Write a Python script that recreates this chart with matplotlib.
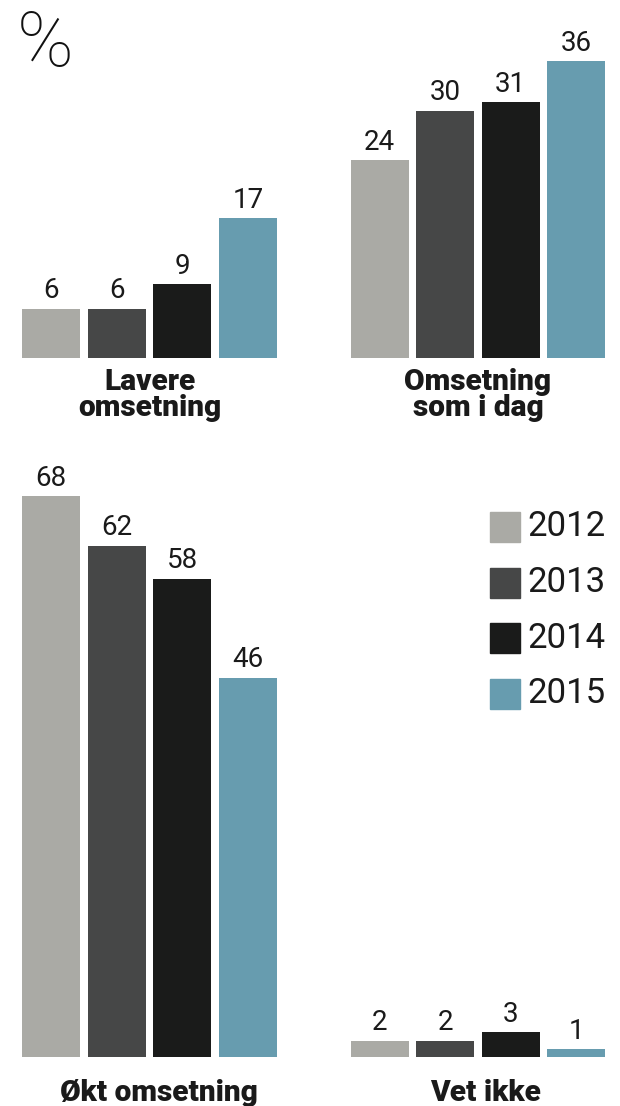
import numpy as np
import matplotlib.pyplot as plt
from matplotlib.patches import Rectangle

# data
years = ['2012', '2013', '2014', '2015']
colors = ['#aaaaa5', '#464747', '#1a1b1a', '#679caf']
lavere = [6, 6, 9, 17]
som_i_dag = [24, 30, 31, 36]
okt = [68, 62, 58, 46]
vet_ikke = [2, 2, 3, 1]

W, H = 620, 1106
fig = plt.figure(figsize=(W / 100, H / 100), dpi=100)
plt.rcParams['font.family'] = ['Roboto', 'DejaVu Sans']

PX = 8.25  # pixels per percent point


def panel(x0, x1, base, ymax, values, lines, label_base, dx=0):
    # axes placed in pixel coords -> figure fraction
    top = base - PX * ymax
    ax = fig.add_axes([x0 / W, 1 - base / H, (x1 - x0) / W, (base - top) / H])
    xs = np.arange(len(values))
    ax.bar(xs, values, width=0.88, color=colors, edgecolor='none')
    for x, v in zip(xs, values):
        ax.annotate(str(v), (x, v), xytext=(0, 3), textcoords='offset points',
                    ha='center', va='bottom', fontsize=20, color='#1a1a1a')
    ax.set_xlim(-0.44, len(values) - 0.56)
    ax.set_ylim(0, ymax)
    ax.axis('off')
    # category label, one text per line
    for i, ln in enumerate(lines):
        fig.text(((x0 + x1) / 2 + dx) / W, 1 - (label_base + i * 25.5) / H, ln,
                 ha='center', va='baseline', fontsize=21.5, fontweight='heavy',
                 color='#1a1a1a')
    return ax


panel(22, 277, 358, 40, lavere, ['Lavere', 'omsetning'], 390)
panel(351, 605, 358, 40, som_i_dag, ['Omsetning', 'som i dag'], 390)
panel(22, 277, 1057, 70, okt, ['Økt omsetning'], 1101, dx=9)
panel(351, 605, 1057, 70, vet_ikke, ['Vet ikke'], 1101, dx=7)

# percent sign
fig.text(17 / W, 1 - 9 / H, '%', ha='left', va='top', fontsize=55,
         fontweight='light', color='#111111')

# legend
for i, (yr, c) in enumerate(zip(years, colors)):
    yc = 527 + i * 55.5
    fig.patches.append(Rectangle((490 / W, 1 - (yc + 15) / H), 30 / W, 30 / H,
                                 transform=fig.transFigure, color=c, figure=fig))
    fig.text(527 / W, 1 - yc / H, yr, ha='left', va='center', fontsize=25,
             color='#1a1a1a')

fig.savefig('out.png', dpi=100, facecolor='white')
